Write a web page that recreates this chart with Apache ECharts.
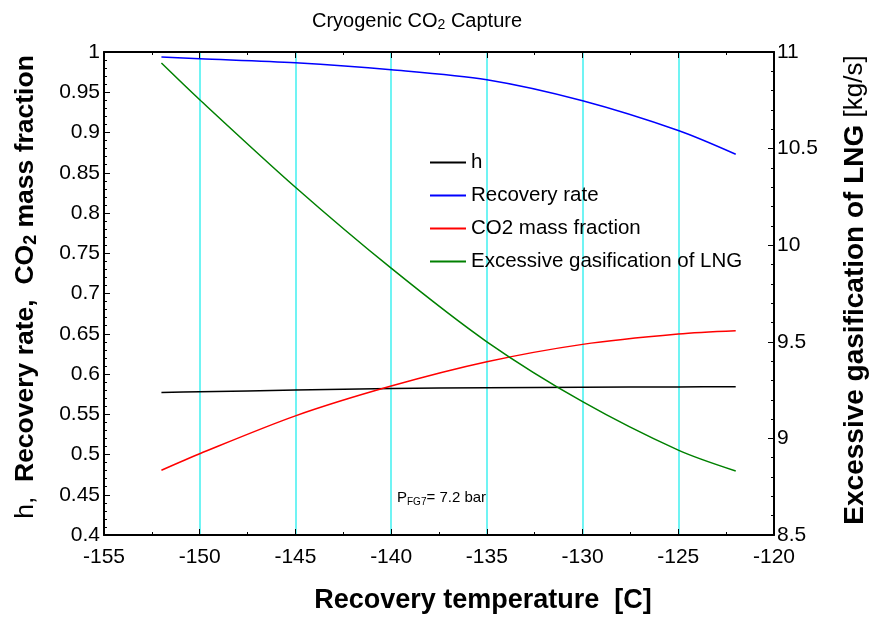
<!DOCTYPE html>
<html>

<head>
    <meta charset="UTF-8">
    <title>Cryogenic CO2 Capture</title>
    <script src="https://cdn.jsdelivr.net/npm/echarts@6.0.0/dist/echarts.min.js"></script>
    <style>
        html, body { margin: 0; padding: 0; background: #fff; }
        #chart { width: 872px; height: 617px; }
    </style>
</head>

<body>
    <div id="chart"></div>
    <script>
        // recovery temperature [C]
        const temps = [-152, -150, -145, -140, -135, -130, -125, -122];
        // left axis series
        const eta = [0.577, 0.578, 0.580, 0.582, 0.583, 0.5835, 0.584, 0.5843];
        const recovery = [0.9938, 0.9917, 0.9866, 0.978, 0.9655, 0.9394, 0.9025, 0.873];
        const co2Fraction = [0.4805, 0.501, 0.548, 0.585, 0.6152, 0.6368, 0.6496, 0.6537];
        // right axis series [kg/s]
        const lngGasification = [10.943, 10.753, 10.30, 9.881, 9.50, 9.19, 8.939, 8.831];

        const seriesNames = ['h', 'Recovery rate', 'CO2 mass fraction', 'Excessive gasification of LNG'];
        const FONT = 'Liberation Sans, Arial, sans-serif';

        const pairs = vals => temps.map((t, i) => [t, vals[i]]);

        const chart = echarts.init(document.getElementById('chart'));

        const tickStyle = { color: '#000', width: 1 };

        chart.setOption({
            animation: false,
            grid: { left: 104, right: 98, top: 52, bottom: 82 },
            legend: {
                orient: 'vertical',
                left: 425,
                top: 147,
                icon: 'rect',
                itemWidth: 36,
                itemHeight: 2,
                itemGap: 12,
                data: seriesNames,
                textStyle: { fontFamily: FONT, fontSize: 20.5, color: '#000' }
            },
            xAxis: [{
                type: 'value',
                min: -155,
                max: -120,
                interval: 5,
                axisLine: { lineStyle: { color: '#000', width: 2 } },
                axisTick: { inside: true, length: 6, lineStyle: tickStyle },
                minorTick: { show: true, splitNumber: 2, length: 3, lineStyle: tickStyle },
                axisLabel: { fontFamily: FONT, fontSize: 21, color: '#000', margin: 12 },
                splitLine: { show: true, lineStyle: { color: '#40f0f0', width: 1.5 } }
            }, {
                type: 'value',
                position: 'top',
                min: -155,
                max: -120,
                interval: 5,
                axisLine: { show: true, lineStyle: { color: '#000', width: 2 } },
                axisTick: { inside: true, length: 6, lineStyle: tickStyle },
                minorTick: { show: true, splitNumber: 2, length: 3, lineStyle: tickStyle },
                axisLabel: { show: false },
                splitLine: { show: false }
            }],
            yAxis: [{
                type: 'value',
                min: 0.4,
                max: 1,
                interval: 0.05,
                axisLine: { show: true, lineStyle: { color: '#000', width: 2 } },
                axisTick: { show: true, inside: true, length: 6, lineStyle: tickStyle },
                minorTick: { show: true, splitNumber: 5, length: 3, lineStyle: tickStyle },
                axisLabel: { fontFamily: FONT, fontSize: 21, color: '#000', margin: 4 },
                splitLine: { show: false }
            }, {
                type: 'value',
                position: 'right',
                min: 8.5,
                max: 11,
                interval: 0.5,
                axisLine: { show: true, lineStyle: { color: '#000', width: 2 } },
                axisTick: { show: true, inside: true, length: 6, lineStyle: tickStyle },
                minorTick: { show: true, splitNumber: 5, length: 3, lineStyle: tickStyle },
                axisLabel: { fontFamily: FONT, fontSize: 21, color: '#000', margin: 3 },
                splitLine: { show: false }
            }],
            series: [{
                name: seriesNames[0],
                type: 'line',
                data: pairs(eta),
                smooth: 0.3,
                showSymbol: false,
                itemStyle: { color: '#000' },
                lineStyle: { color: '#000', width: 1.5 }
            }, {
                name: seriesNames[1],
                type: 'line',
                data: pairs(recovery),
                smooth: 0.3,
                showSymbol: false,
                itemStyle: { color: '#0000ff' },
                lineStyle: { color: '#0000ff', width: 1.5 }
            }, {
                name: seriesNames[2],
                type: 'line',
                data: pairs(co2Fraction),
                smooth: 0.3,
                showSymbol: false,
                itemStyle: { color: '#ff0000' },
                lineStyle: { color: '#ff0000', width: 1.5 }
            }, {
                name: seriesNames[3],
                type: 'line',
                yAxisIndex: 1,
                data: pairs(lngGasification),
                smooth: 0.3,
                showSymbol: false,
                itemStyle: { color: '#008000' },
                lineStyle: { color: '#008000', width: 1.5 }
            }],
            graphic: [{
                // title
                type: 'text',
                x: 417, y: 21,
                style: {
                    text: 'Cryogenic CO{sub|2} Capture',
                    font: '20px ' + FONT,
                    fill: '#000',
                    align: 'center',
                    verticalAlign: 'middle',
                    rich: { sub: { fontSize: 14, fontFamily: FONT, padding: [9, 0, 0, 0] } }
                }
            }, {
                type: 'text',
                x: 483, y: 601,
                style: {
                    text: 'Recovery temperature  [C]',
                    font: 'bold 27px ' + FONT,
                    fill: '#000',
                    align: 'center',
                    verticalAlign: 'middle'
                }
            }, {
                type: 'text',
                x: 26, y: 287,
                rotation: Math.PI / 2,
                style: {
                    text: '{n|h,}  Recovery rate,  CO{s|2} mass fraction',
                    font: 'bold 26.5px ' + FONT,
                    fill: '#000',
                    align: 'center',
                    verticalAlign: 'middle',
                    rich: {
                        n: { fontWeight: 'normal', fontSize: 26.5, fontFamily: FONT },
                        s: { fontWeight: 'bold', fontSize: 18, fontFamily: FONT, padding: [11, 0, 0, 0] }
                    }
                }
            }, {
                type: 'text',
                x: 855, y: 290,
                rotation: Math.PI / 2,
                style: {
                    text: 'Excessive gasification of LNG{n| [kg/s]}',
                    font: 'bold 28px ' + FONT,
                    fill: '#000',
                    align: 'center',
                    verticalAlign: 'middle',
                    rich: { n: { fontWeight: 'normal', fontSize: 26, fontFamily: FONT } }
                }
            }, {
                type: 'text',
                x: 397, y: 498,
                style: {
                    text: 'P{s|FG7}= 7.2 bar',
                    font: '15px ' + FONT,
                    fill: '#000',
                    align: 'left',
                    verticalAlign: 'middle',
                    rich: { s: { fontSize: 10, fontFamily: FONT, padding: [8, 0, 0, 0] } }
                }
            }]
        });
    </script>
</body>

</html>
